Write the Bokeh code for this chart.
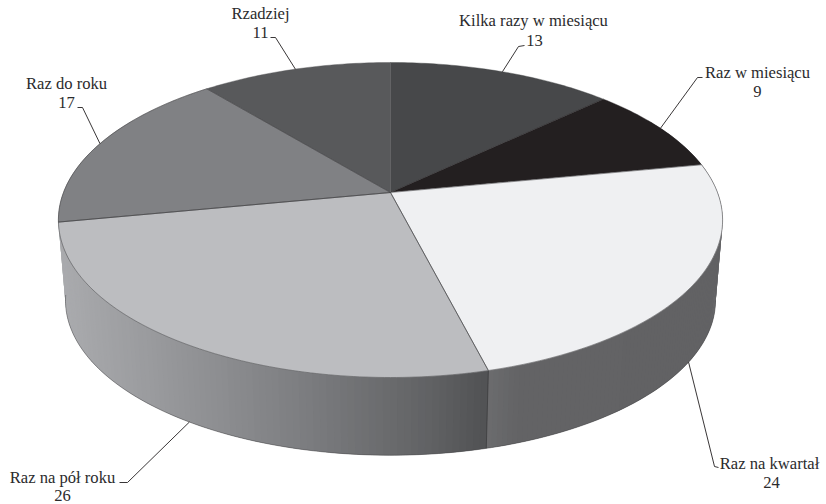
import math
from bokeh.embed import file_html
from bokeh.models import Range1d
from bokeh.plotting import figure
from bokeh.resources import INLINE
from bokeh.core.properties import value

# Survey answers and the value of each slice, clockwise from twelve o'clock
categories = ["Kilka razy w miesiącu", "Raz w miesiącu", "Raz na kwartał",
              "Raz na pół roku", "Raz do roku", "Rzadziej"]
values = [13, 9, 24, 26, 17, 11]
top_colors = ["#47484a", "#231f20", "#eff0f2", "#bcbdc0", "#808184", "#58595b"]

# Label centres: name line, value line
label_x = [533, 757, 769, 62, 66, 260]
label_y = [20, 72, 463, 477, 83, 13]
number_x = [534, 757, 771, 62, 66, 260]
number_y = [40, 91, 482, 495, 102, 32]
# Leader bends beyond each slice's anchor: elbow, then end next to the text
elbow_x = [518, 697, 714, 127, 82, 275]
elbow_y = [46, 77, 466, 482, 107, 37]
tail_x = [524, 702, 718, 119, 77, 270]
tail_y = [45, 77, 467, 482, 107, 37]

# Perspective discs: hub position, radii, foreshortening
K = 0.1746
TOP = dict(cx=390.0, cy=192.0, a=327.0, b=152.7)
BOTTOM = dict(cx=390.0, cy=273.0, a=320.0, b=150.0)


def project(disc, theta):
    u, v = math.sin(theta), math.cos(theta)
    w = 1 + K * v
    return disc["cx"] + disc["a"] * u / w, disc["cy"] - disc["b"] * v / w


def mix(stops, x):
    if x <= stops[0][0]:
        return "#%02x%02x%02x" % tuple(stops[0][1])
    for (x0, c0), (x1, c1) in zip(stops, stops[1:]):
        if x <= x1:
            t = (x - x0) / (x1 - x0)
            rgb = [round(c0[i] + (c1[i] - c0[i]) * t) for i in range(3)]
            return "#%02x%02x%02x" % tuple(rgb)
    return "#%02x%02x%02x" % tuple(stops[-1][1])


# Side-wall shading, left to right
wall_left = [(60, (170, 171, 174)), (190, (146, 147, 150)), (300, (124, 125, 128)),
             (420, (98, 99, 101)), (486, (80, 81, 83))]
wall_right = [(487, (108, 109, 111)), (520, (99, 99, 101)), (723, (98, 98, 100))]

total = sum(values)
edges = [0.0]
for val in values:
    edges.append(edges[-1] + val / total * 2 * math.pi)

p = figure(width=826, height=504, output_backend="svg", toolbar_location=None,
           x_range=Range1d(0, 826), y_range=Range1d(504, 0), min_border=0,
           outline_line_color=None, background_fill_color="white")
p.axis.visible = False
p.grid.visible = False

# Side wall: overlapping strips painted from each end towards the seam
seam = edges[3]
steps = 130


def wall_strips(first, last, stops):
    xs, ys, fills = [], [], []
    for i in range(steps):
        t0 = first + (last - first) * i / steps
        t1 = first + (last - first) * min(i + 2, steps) / steps
        a0, a1 = project(TOP, t0), project(TOP, t1)
        b0, b1 = project(BOTTOM, t0), project(BOTTOM, t1)
        xs.append([a0[0], a1[0], b1[0], b0[0]])
        ys.append([a0[1], a1[1], b1[1], b0[1]])
        fills.append(mix(stops, (a0[0] + b0[0]) / 2))
    p.patches(xs, ys, fill_color=fills, line_color=None)


wall_strips(math.radians(60), seam, wall_right)
wall_strips(math.radians(300), seam, wall_left)

# Lower rim of the wall and the seam between the two visible sides
rim_from, rim_to = math.radians(100), math.radians(262)
rim = [project(BOTTOM, rim_from + (rim_to - rim_from) * i / 200) for i in range(201)]
p.line([pt[0] for pt in rim], [pt[1] for pt in rim], line_color="#444446", line_width=0.5)
s0, s1 = project(TOP, seam), project(BOTTOM, seam)
p.line([s0[0], s1[0]], [s0[1], s1[1]], line_color="#2f2f31", line_width=0.6)

# Top face
for i, color in enumerate(top_colors):
    n = max(8, values[i] * 4)
    arc = [project(TOP, edges[i] + (edges[i + 1] - edges[i]) * j / n) for j in range(n + 1)]
    px = [TOP["cx"]] + [pt[0] for pt in arc]
    py = [TOP["cy"]] + [pt[1] for pt in arc]
    p.patch(px, py, fill_color=color, line_color=color, line_width=0.4)

# Thin dark outlines of the lit slices
for i in (2, 3, 4):
    n = values[i] * 4
    arc = [project(TOP, edges[i] + (edges[i + 1] - edges[i]) * j / n) for j in range(n + 1)]
    px = [TOP["cx"]] + [pt[0] for pt in arc] + [TOP["cx"]]
    py = [TOP["cy"]] + [pt[1] for pt in arc] + [TOP["cy"]]
    p.line(px, py, line_color="#3d3d3f", line_width=0.5)

# Leaders and labels
for i, name in enumerate(categories):
    mid = (edges[i] + edges[i + 1]) / 2
    anchor = project(BOTTOM if i in (2, 3) else TOP, mid)
    p.line([anchor[0], elbow_x[i], tail_x[i]], [anchor[1], elbow_y[i], tail_y[i]],
           line_color="#231f20", line_width=0.9)

common = dict(text_font=value("Liberation Serif"), text_font_size="16.6px",
              text_color="#2b2b2d", text_align="center", text_baseline="middle")
p.text(label_x, label_y, text=categories, **common)
p.text(number_x, number_y, text=[str(val) for val in values], **common)

open("out.html", "w").write(file_html(p, INLINE))
